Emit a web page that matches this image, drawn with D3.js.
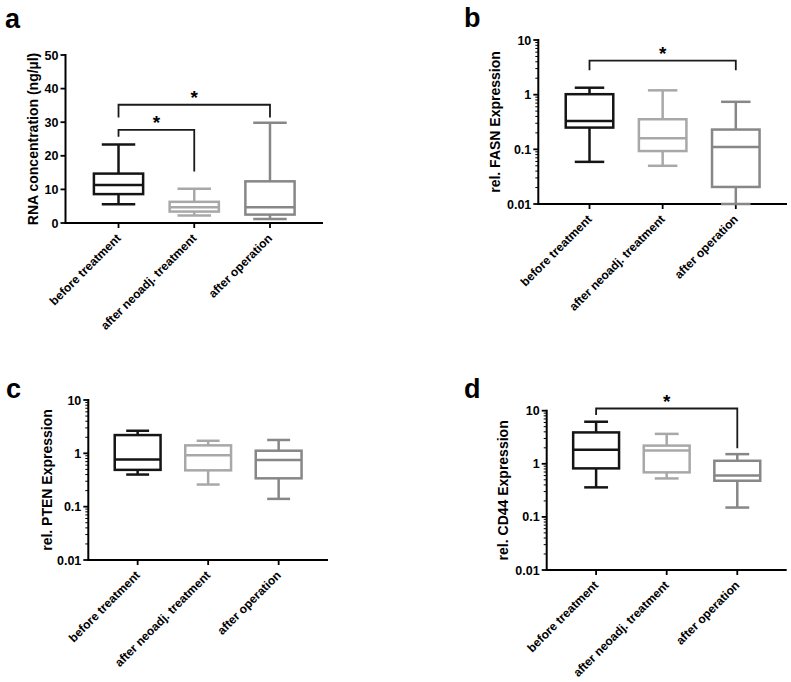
<!DOCTYPE html>
<html>
<head>
<meta charset="utf-8">
<script src="https://cdn.jsdelivr.net/npm/d3@7"></script>
<style>
  html, body { margin: 0; padding: 0; background: #fff; }
  svg { display: block; font-family: "Liberation Sans", Arial, sans-serif; }
</style>
</head>
<body>
<svg id="chart" width="791" height="682"></svg>
<script>
// ---- data ----
const categories = ["before treatment", "after neoadj. treatment", "after operation"];
const groupColors = ["#151515", "#a8a8a8", "#878787"];

// [min, Q1, median, Q3, max]
const rnaStats  = [[5.6, 8.6, 11.3, 14.7, 23.4], [2.2, 3.4, 4.7, 6.3, 10.2], [1.2, 2.5, 4.7, 12.4, 29.8]];
const fasnStats = [[0.059, 0.25, 0.33, 1.02, 1.34], [0.05, 0.093, 0.16, 0.355, 1.2], [0.01, 0.0205, 0.11, 0.23, 0.74]];
const ptenStats = [[0.40, 0.49, 0.77, 2.2, 2.65], [0.26, 0.48, 0.92, 1.41, 1.72], [0.14, 0.34, 0.75, 1.12, 1.78]];
const cd44Stats = [[0.36, 0.82, 1.83, 3.9, 6.2], [0.53, 0.69, 1.78, 2.2, 3.66], [0.15, 0.48, 0.60, 1.14, 1.52]];

const linearTicks = [0, 10, 20, 30, 40, 50];
const logTicks = [0.01, 0.1, 1, 10];
const logTickLabels = ["0.01", "0.1", "1", "10"];

// significance brackets: from group, to group, bar level, left drop end, right drop end
const rnaBrackets  = [{from: 0, to: 2, y: 35.2, yl: 31.4, yr: 31.4}, {from: 0, to: 1, y: 27.7, yl: 25.7, yr: 15.3}];
const fasnBrackets = [{from: 0, to: 2, y: 4.2, yl: 2.8, yr: 2.8}];
const ptenBrackets = [];
const cd44Brackets = [{from: 0, to: 2, y: 11, yl: 8.3, yr: 1.97}];

// ---- layout ----
const panels = [
  {letter: "a", lx: 5, ly: 28, title: "RNA concentration (ng/µl)", titleX: 33, stats: rnaStats, brackets: rnaBrackets,
   type: "linear", domain: [0, 50], x0: 65.5, x1: 323, yTop: 55, yBot: 223, cap: 0.68},
  {letter: "b", lx: 464, ly: 27, title: "rel. FASN Expression", titleX: 495, stats: fasnStats, brackets: fasnBrackets,
   type: "log", domain: [0.01, 10], x0: 538.3, x1: 787, yTop: 40, yBot: 204, cap: 0.62},
  {letter: "c", lx: 6, ly: 398, title: "rel. PTEN Expression", titleX: 47, stats: ptenStats, brackets: ptenBrackets,
   type: "log", domain: [0.01, 10], x0: 88.3, x1: 328, yTop: 400, yBot: 560, cap: 0.5},
  {letter: "d", lx: 464, ly: 398, title: "rel. CD44 Expression", titleX: 503, stats: cd44Stats, brackets: cd44Brackets,
   type: "log", domain: [0.01, 10], x0: 546.7, x1: 786.7, yTop: 410.7, yBot: 570, cap: 0.52}
];

const svg = d3.select("#chart");

panels.forEach(p => {
  const g = svg.append("g");
  const x = d3.scalePoint().domain(categories).range([p.x0, p.x1]).padding(0.7);
  const y = (p.type === "log" ? d3.scaleLog() : d3.scaleLinear()).domain(p.domain).range([p.yBot, p.yTop]);
  const step = x.step();
  const bw = step * 0.65;
  const cw = bw * p.cap;

  // panel letter
  g.append("text").attr("x", p.lx).attr("y", p.ly).attr("font-size", 27).attr("font-weight", "bold")
    .attr("fill", "#000").text(p.letter);

  // y axis
  const yAxisG = g.append("g");
  yAxisG.append("line").attr("x1", p.x0).attr("x2", p.x0).attr("y1", y(p.domain[1]) - 1).attr("y2", p.yBot)
    .attr("stroke", "#000").attr("stroke-width", 2);
  const majors = p.type === "log" ? logTicks : linearTicks;
  const labels = p.type === "log" ? logTickLabels : linearTicks.map(String);
  majors.forEach((t, i) => {
    yAxisG.append("line").attr("x1", p.x0 - 5).attr("x2", p.x0).attr("y1", y(t)).attr("y2", y(t))
      .attr("stroke", "#000").attr("stroke-width", 1.8);
    yAxisG.append("text").attr("x", p.x0 - 7).attr("y", y(t)).attr("dy", "0.36em")
      .attr("text-anchor", "end").attr("font-size", 12.5).attr("font-weight", "bold").text(labels[i]);
  });
  if (p.type === "log") {
    const minors = y.ticks().filter(t => !logTicks.some(m => Math.abs(m - t) / m < 1e-6));
    minors.forEach(t => {
      yAxisG.append("line").attr("x1", p.x0 - 3).attr("x2", p.x0).attr("y1", y(t)).attr("y2", y(t))
        .attr("stroke", "#000").attr("stroke-width", 1);
    });
  }

  // y title
  const cy = (p.yTop + p.yBot) / 2;
  g.append("text").attr("transform", `translate(${p.titleX},${cy}) rotate(-90)`).attr("text-anchor", "middle")
    .attr("dy", "0.35em").attr("font-size", 14).attr("font-weight", "bold").text(p.title);

  // x axis
  g.append("line").attr("x1", p.x0 - 1).attr("x2", p.x1).attr("y1", p.yBot).attr("y2", p.yBot)
    .attr("stroke", "#000").attr("stroke-width", 2);
  categories.forEach(c => {
    g.append("line").attr("x1", x(c)).attr("x2", x(c)).attr("y1", p.yBot).attr("y2", p.yBot + 5)
      .attr("stroke", "#000").attr("stroke-width", 1.8);
    g.append("text").attr("transform", `translate(${x(c) + 3},${p.yBot + 16}) rotate(-45)`)
      .attr("text-anchor", "end").attr("font-size", 12).attr("font-weight", "bold").text(c);
  });

  // boxes
  p.stats.forEach((s, i) => {
    const cx = x(categories[i]);
    const col = groupColors[i];
    const bg = g.append("g").attr("stroke", col).attr("stroke-width", 2.5).attr("fill", "none");
    // whiskers
    bg.append("line").attr("x1", cx).attr("x2", cx).attr("y1", y(s[4])).attr("y2", y(s[3]));
    bg.append("line").attr("x1", cx).attr("x2", cx).attr("y1", y(s[1])).attr("y2", y(s[0]));
    bg.append("line").attr("x1", cx - cw / 2).attr("x2", cx + cw / 2).attr("y1", y(s[4])).attr("y2", y(s[4]));
    bg.append("line").attr("x1", cx - cw / 2).attr("x2", cx + cw / 2).attr("y1", y(s[0])).attr("y2", y(s[0]));
    // box
    bg.append("rect").attr("x", cx - bw / 2).attr("y", y(s[3])).attr("width", bw).attr("height", y(s[1]) - y(s[3]))
      .attr("fill", "#fff");
    bg.append("line").attr("x1", cx - bw / 2).attr("x2", cx + bw / 2).attr("y1", y(s[2])).attr("y2", y(s[2]));
  });

  // brackets
  p.brackets.forEach(b => {
    const xl = x(categories[b.from]), xr = x(categories[b.to]);
    g.append("path")
      .attr("d", `M${xl},${y(b.yl)}V${y(b.y)}H${xr}V${y(b.yr)}`)
      .attr("fill", "none").attr("stroke", "#1a1a1a").attr("stroke-width", 1.8);
    g.append("text").attr("x", (xl + xr) / 2).attr("y", y(b.y) - 1).attr("text-anchor", "middle")
      .attr("font-size", 19).attr("font-weight", "bold").text("*");
  });
});
</script>
</body>
</html>
